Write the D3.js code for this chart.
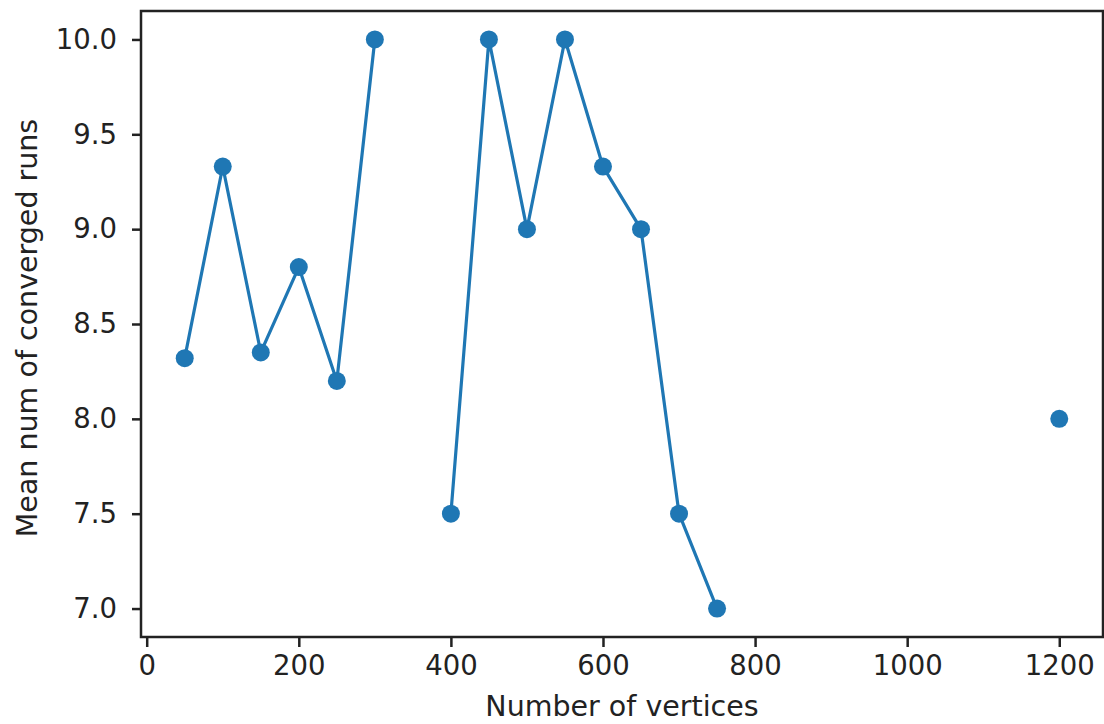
<!DOCTYPE html>
<html>
<head>
<meta charset="utf-8">
<script src="https://cdn.jsdelivr.net/npm/d3@7"></script>
<style>
  html, body { margin: 0; padding: 0; background: #fff; }
  svg { display: block; font-family: 'DejaVu Sans', sans-serif; }
</style>
</head>
<body>
<svg id="chart" width="1104" height="724"></svg>
<script>
// number of vertices (null values break the line, as NaN does in matplotlib)
const vertices = [50, 100, 150, 200, 250, 300, 350, 400, 450, 500, 550, 600, 650, 700, 750, 800, 1200];
const meanRuns = [8.32, 9.33, 8.35, 8.8, 8.2, 10.0, null, 7.5, 10.0, 9.0, 10.0, 9.33, 9.0, 7.5, 7.0, null, 8.0];
const xTicks = [0, 200, 400, 600, 800, 1000, 1200];
const yTicks = [7.0, 7.5, 8.0, 8.5, 9.0, 9.5, 10.0];

const xLabel = 'Number of vertices';
const yLabel = 'Mean num of converged runs';

const margin = { top: 11, right: 1, bottom: 87, left: 141 };
const totalWidth = 1104;
const totalHeight = 724;
const width = totalWidth - margin.left - margin.right;
const height = totalHeight - margin.top - margin.bottom;
const COLOR = '#1f77b4';
const TICK_FONT = 27.5;
const LABEL_FONT = 28.5;

const svg = d3.select('#chart');

const points = vertices.map((v, i) => ({ x: v, y: meanRuns[i] }));

const xScale = d3.scaleLinear().domain([-7.5, 1257.5]).range([0, width]);
const yScale = d3.scaleLinear().domain([6.85, 10.15]).range([height, 0]);

const g = svg.append('g').attr('transform', `translate(${margin.left}, ${margin.top})`);

/* line with gaps */
g.append('path')
  .datum(points)
  .attr('fill', 'none')
  .attr('stroke', COLOR)
  .attr('stroke-width', 3.2)
  .attr('stroke-linejoin', 'round')
  .attr('stroke-linecap', 'square')
  .attr('d', d3.line()
    .defined(d => d.y != null)
    .x(d => xScale(d.x))
    .y(d => yScale(d.y)));

/* markers */
g.selectAll('.point')
  .data(points.filter(d => d.y != null))
  .enter()
  .append('circle')
  .attr('class', 'point')
  .attr('r', 9)
  .attr('fill', COLOR)
  .attr('cx', d => xScale(d.x))
  .attr('cy', d => yScale(d.y));

/* bottom axis */
const bottomAxis = d3.axisBottom(xScale)
  .tickValues(xTicks)
  .tickFormat(d3.format('d'))
  .tickSize(10)
  .tickSizeOuter(0)
  .tickPadding(8);
const gx = g.append('g')
  .attr('transform', `translate(0, ${height})`)
  .call(bottomAxis);
gx.select('.domain').remove();
gx.selectAll('.tick line').attr('stroke', '#222').attr('stroke-width', 2.5);
gx.selectAll('.tick text')
  .attr('fill', '#222')
  .attr('font-size', TICK_FONT)
  .attr('font-family', 'DejaVu Sans, sans-serif');

/* left axis */
const leftAxis = d3.axisLeft(yScale)
  .tickValues(yTicks)
  .tickFormat(d3.format('.1f'))
  .tickSize(9)
  .tickSizeOuter(0)
  .tickPadding(15);
const gy = g.append('g').call(leftAxis);
gy.select('.domain').remove();
gy.selectAll('.tick line').attr('stroke', '#222').attr('stroke-width', 2.5);
gy.selectAll('.tick text')
  .attr('fill', '#222')
  .attr('font-size', TICK_FONT)
  .attr('font-family', 'DejaVu Sans, sans-serif');

/* frame (spines) */
g.append('rect')
  .attr('x', 0)
  .attr('y', 0)
  .attr('width', width)
  .attr('height', height)
  .attr('fill', 'none')
  .attr('stroke', '#222')
  .attr('stroke-width', 2.5);

/* axis labels */
svg.append('text')
  .attr('x', margin.left + width / 2)
  .attr('y', 716)
  .attr('text-anchor', 'middle')
  .attr('fill', '#222')
  .attr('font-size', LABEL_FONT)
  .text(xLabel);

svg.append('text')
  .attr('transform', `translate(37, ${margin.top + height / 2 + 4}) rotate(-90)`)
  .attr('text-anchor', 'middle')
  .attr('fill', '#222')
  .attr('font-size', LABEL_FONT)
  .text(yLabel);
</script>
</body>
</html>
